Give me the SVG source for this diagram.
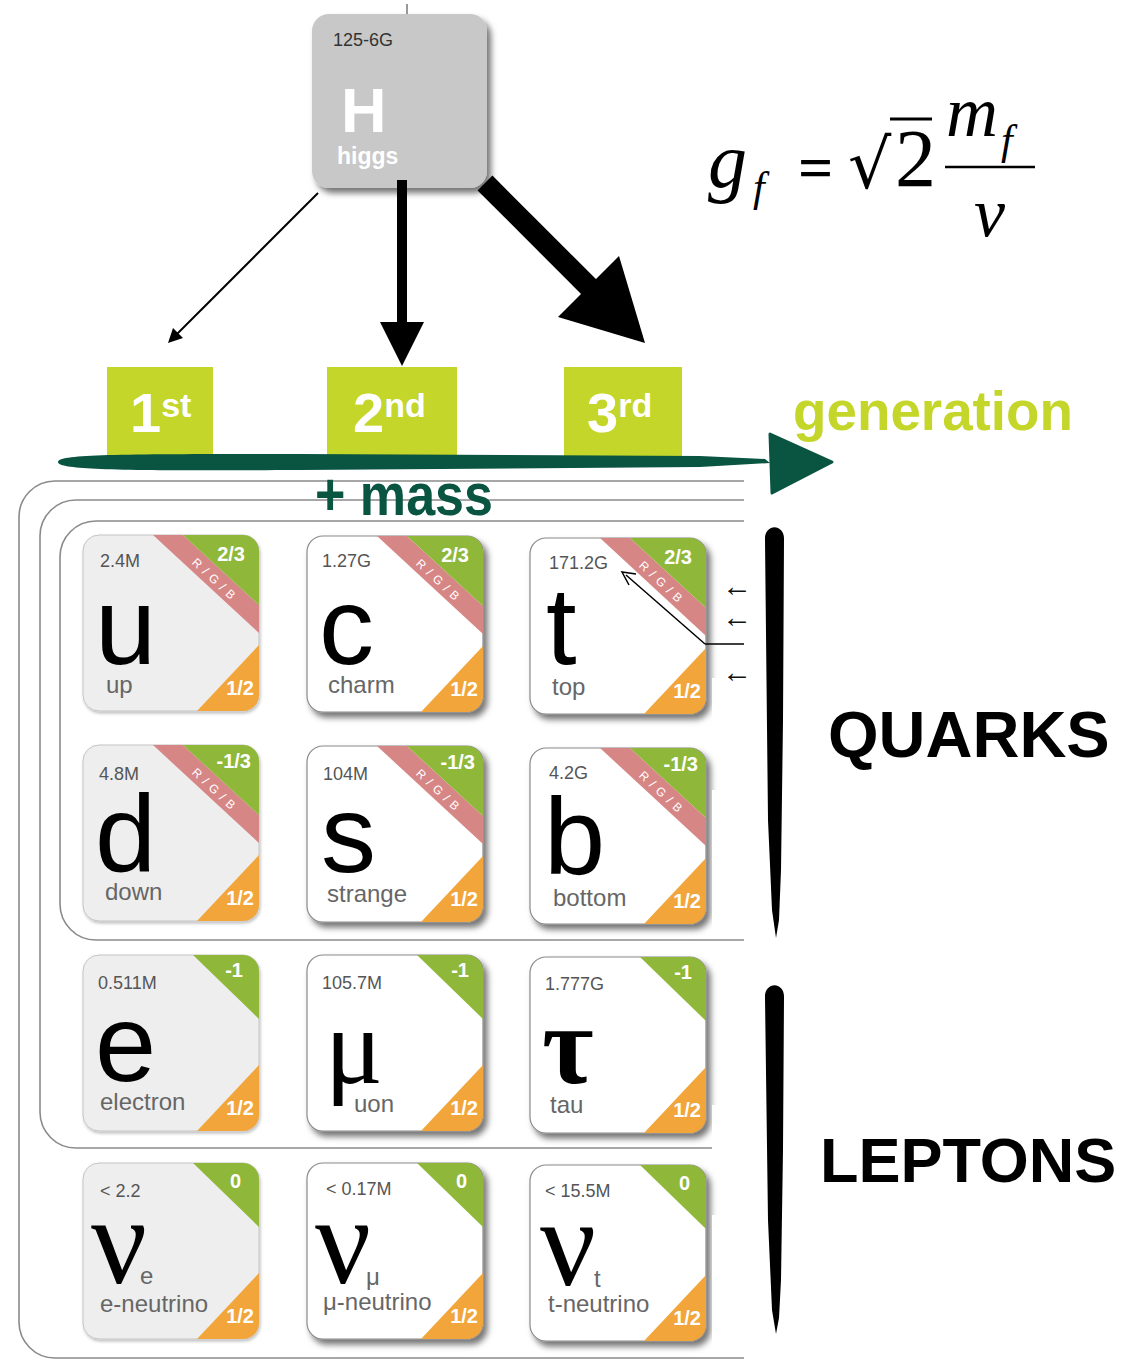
<svg xmlns="http://www.w3.org/2000/svg" width="1124" height="1361" viewBox="0 0 1124 1361">
<style>
.t1{fill:#eeeeee;stroke:#c4c4c4;stroke-width:1;filter:url(#sh1)}
.t2{fill:#ffffff;stroke:#8a8a8a;stroke-width:1.2;filter:url(#sh2)}
.gr{fill:#8fb83a}.pk{fill:#d78686}.or{fill:#f2a53a}
.ms{font-family:"Liberation Sans",Arial,sans-serif;font-size:18px;fill:#555}
.big{font-family:"Liberation Sans",Arial,sans-serif;font-size:110px;fill:#000}
.gk{font-family:"Liberation Serif","Times New Roman",serif;fill:#000}
.lb{font-family:"Liberation Sans",Arial,sans-serif;font-size:24px;fill:#666}
.ch{font-family:"Liberation Sans",Arial,sans-serif;font-weight:bold;font-size:20px;fill:#fff;text-anchor:end}
.rgb{font-family:"Liberation Sans",Arial,sans-serif;font-size:12px;fill:#fff;text-anchor:middle;letter-spacing:1px}
.fr{fill:none;stroke:#8a8a8a;stroke-width:1.6}
.gen{fill:#c5d62a}
.gt{font-family:"Liberation Sans",Arial,sans-serif;font-weight:bold;fill:#fff}
.fm{font-family:"Liberation Serif","Times New Roman",serif;fill:#000}
.sa{font-family:"Liberation Sans",Arial,sans-serif;font-weight:bold;fill:#000}
.la{font-family:"Liberation Sans",Arial,sans-serif;font-size:30px;fill:#111}
</style>
<defs>
<filter id="sh1" x="-10%" y="-10%" width="130%" height="130%"><feDropShadow dx="1" dy="2" stdDeviation="1.5" flood-color="#000" flood-opacity="0.25"/></filter>
<filter id="sh2" x="-10%" y="-10%" width="130%" height="130%"><feDropShadow dx="4" dy="5" stdDeviation="3" flood-color="#000" flood-opacity="0.55"/></filter>
<clipPath id="tc"><rect width="176" height="176" rx="16"/></clipPath>
</defs>
<rect width="1124" height="1361" fill="#fff"/>

<!-- frames -->
<g id="frames">
<path class="fr" d="M744 481 H55 A36 36 0 0 0 19 517 V1322 A36 36 0 0 0 55 1358 H744"/>
<path class="fr" d="M744 500 H76 A36 36 0 0 0 40 536 V1112 A36 36 0 0 0 76 1148 H712"/>
<path class="fr" d="M744 521 H96 A36 36 0 0 0 60 557 V904 A36 36 0 0 0 96 940 H744"/>
</g>

<!-- Higgs -->
<g id="higgs">
<line x1="407" y1="4" x2="407" y2="16" stroke="#999" stroke-width="2"/>
<rect x="312" y="14" width="175" height="174" rx="17" fill="#c8c8c8" filter="url(#sh2)"/>
<text x="333" y="46" style="font-family:'Liberation Sans',Arial,sans-serif;font-size:18px;fill:#333">125-6G</text>
<text x="341" y="132" style="font-family:'Liberation Sans',Arial,sans-serif;font-weight:bold;font-size:63px;fill:#fff">H</text>
<text x="337" y="164" style="font-family:'Liberation Sans',Arial,sans-serif;font-weight:bold;font-size:23px;fill:#fff">higgs</text>
</g>

<!-- connectors -->
<g id="connectors">
<line x1="318" y1="193" x2="176" y2="335" stroke="#000" stroke-width="2"/>
<polygon points="168,343 173,328 183,338" fill="#000"/>
<line x1="402" y1="180" x2="402" y2="326" stroke="#000" stroke-width="10"/>
<polygon points="380,322 424,322 402,366" fill="#000"/>
<line x1="485" y1="183" x2="592" y2="290" stroke="#000" stroke-width="21"/>
<polygon points="645,343 619,256 558,317" fill="#000"/>
</g>

<!-- formula -->
<g id="formula">
<text class="fm" x="708" y="187" font-size="78" font-style="italic">g</text>
<text class="fm" x="753" y="201" font-size="42" font-style="italic">f</text>
<text class="fm" x="798" y="188" font-size="62" font-weight="bold">=</text>
<text x="848" y="188" style="font-family:'DejaVu Serif','Liberation Serif',serif;font-size:68px">√</text>
<line x1="890" y1="119" x2="932" y2="119" stroke="#000" stroke-width="3"/>
<text class="fm" x="895" y="186" font-size="82">2</text>
<text class="fm" x="946" y="136" font-size="72" font-style="italic">m</text>
<text class="fm" x="1001" y="154" font-size="42" font-style="italic">f</text>
<line x1="945" y1="167" x2="1035" y2="167" stroke="#000" stroke-width="2.5"/>
<text class="fm" x="974" y="236" font-size="70" font-style="italic">v</text>
</g>

<!-- generations -->
<g id="gen1">
<rect class="gen" x="107" y="367" width="106" height="89"/>
<text class="gt" x="130" y="432" font-size="56">1<tspan font-size="34" dy="-15">st</tspan></text>
</g>
<g id="gen2">
<rect class="gen" x="327" y="367" width="130" height="89"/>
<text class="gt" x="353" y="432" font-size="56">2<tspan font-size="34" dy="-15">nd</tspan></text>
</g>
<g id="gen3">
<rect class="gen" x="564" y="367" width="118" height="89"/>
<text class="gt" x="587" y="432" font-size="56">3<tspan font-size="34" dy="-15">rd</tspan></text>
</g>
<g id="generation-label">
<text x="793" y="430" textLength="280" lengthAdjust="spacingAndGlyphs" style="font-family:'Liberation Sans',Arial,sans-serif;font-weight:bold;font-size:56px;fill:#c5d62a">generation</text>
</g>
<g id="mass-axis">
<path d="M58 462 C58 454 120 454 300 454 L700 456 L765 459 L770 463 L700 467 L300 470 C120 471 58 470 58 462 Z" fill="#0a5442"/>
<polygon points="770,434 832,462 772,493" fill="#0a5442" stroke="#0a5442" stroke-width="3" stroke-linejoin="round"/>
<text x="315" y="515" textLength="178" lengthAdjust="spacingAndGlyphs" style="font-family:'Liberation Sans',Arial,sans-serif;font-weight:bold;font-size:60px;fill:#0a5442">+ mass</text>
</g>

<!-- row 1 -->
<g id="tile-up" transform="translate(83,535)">
<rect class="t1" width="176" height="176" rx="16"/>
<g clip-path="url(#tc)"><polygon class="pk" points="70,0 100,0 176,70 176,98"/><polygon class="gr" points="100,0 176,0 176,70"/><polygon class="or" points="176,110 176,176 114,176"/></g>
<text class="rgb" transform="translate(131,44) rotate(43)" y="4">R / G / B</text>
<text class="ch" x="162" y="26">2/3</text><text class="ch" x="171" y="160">1/2</text>
<text class="ms" x="17" y="32">2.4M</text>
<text class="big" x="12" y="129">u</text>
<text class="lb" x="23" y="158">up</text>
</g>
<g id="tile-charm" transform="translate(307,536)">
<rect class="t2" width="176" height="176" rx="16"/>
<g clip-path="url(#tc)"><polygon class="pk" points="70,0 100,0 176,70 176,98"/><polygon class="gr" points="100,0 176,0 176,70"/><polygon class="or" points="176,110 176,176 114,176"/></g>
<text class="rgb" transform="translate(131,44) rotate(43)" y="4">R / G / B</text>
<text class="ch" x="162" y="26">2/3</text><text class="ch" x="171" y="160">1/2</text>
<text class="ms" x="15" y="31">1.27G</text>
<text class="big" x="12" y="128">c</text>
<text class="lb" x="21" y="157">charm</text>
</g>
<g id="tile-top" transform="translate(530,538)">
<rect class="t2" width="176" height="176" rx="16"/>
<g clip-path="url(#tc)"><polygon class="pk" points="70,0 100,0 176,70 176,98"/><polygon class="gr" points="100,0 176,0 176,70"/><polygon class="or" points="176,110 176,176 114,176"/></g>
<text class="rgb" transform="translate(131,44) rotate(43)" y="4">R / G / B</text>
<text class="ch" x="162" y="26">2/3</text><text class="ch" x="171" y="160">1/2</text>
<text class="ms" x="19" y="31">171.2G</text>
<text class="big" x="16" y="126">t</text>
<text class="lb" x="22" y="157">top</text>
</g>

<!-- row 2 -->
<g id="tile-down" transform="translate(83,745)">
<rect class="t1" width="176" height="176" rx="16"/>
<g clip-path="url(#tc)"><polygon class="pk" points="70,0 100,0 176,70 176,98"/><polygon class="gr" points="100,0 176,0 176,70"/><polygon class="or" points="176,110 176,176 114,176"/></g>
<text class="rgb" transform="translate(131,44) rotate(43)" y="4">R / G / B</text>
<text class="ch" x="168" y="23">-1/3</text><text class="ch" x="171" y="160">1/2</text>
<text class="ms" x="16" y="35">4.8M</text>
<text class="big" x="12" y="126">d</text>
<text class="lb" x="22" y="155">down</text>
</g>
<g id="tile-strange" transform="translate(307,746)">
<rect class="t2" width="176" height="176" rx="16"/>
<g clip-path="url(#tc)"><polygon class="pk" points="70,0 100,0 176,70 176,98"/><polygon class="gr" points="100,0 176,0 176,70"/><polygon class="or" points="176,110 176,176 114,176"/></g>
<text class="rgb" transform="translate(131,44) rotate(43)" y="4">R / G / B</text>
<text class="ch" x="168" y="23">-1/3</text><text class="ch" x="171" y="160">1/2</text>
<text class="ms" x="16" y="34">104M</text>
<text class="big" x="14" y="126">s</text>
<text class="lb" x="20" y="156">strange</text>
</g>
<g id="tile-bottom" transform="translate(530,748)">
<rect class="t2" width="176" height="176" rx="16"/>
<g clip-path="url(#tc)"><polygon class="pk" points="70,0 100,0 176,70 176,98"/><polygon class="gr" points="100,0 176,0 176,70"/><polygon class="or" points="176,110 176,176 114,176"/></g>
<text class="rgb" transform="translate(131,44) rotate(43)" y="4">R / G / B</text>
<text class="ch" x="168" y="23">-1/3</text><text class="ch" x="171" y="160">1/2</text>
<text class="ms" x="19" y="31">4.2G</text>
<text class="big" x="14" y="126">b</text>
<text class="lb" x="23" y="158">bottom</text>
</g>

<!-- row 3 -->
<g id="tile-electron" transform="translate(83,955)">
<rect class="t1" width="176" height="176" rx="16"/>
<g clip-path="url(#tc)"><polygon class="gr" points="110,0 176,0 176,64"/><polygon class="or" points="176,110 176,176 114,176"/></g>
<text class="ch" x="160" y="22">-1</text><text class="ch" x="171" y="160">1/2</text>
<text class="ms" x="15" y="34">0.511M</text>
<text class="big" x="12" y="126">e</text>
<text class="lb" x="17" y="155">electron</text>
</g>
<g id="tile-muon" transform="translate(307,955)">
<rect class="t2" width="176" height="176" rx="16"/>
<g clip-path="url(#tc)"><polygon class="gr" points="110,0 176,0 176,64"/><polygon class="or" points="176,110 176,176 114,176"/></g>
<text class="ch" x="162" y="22">-1</text><text class="ch" x="171" y="160">1/2</text>
<text class="ms" x="15" y="34">105.7M</text>
<text class="gk" x="18" y="128" font-size="108">μ</text>
<text class="lb" x="47" y="157">uon</text>
</g>
<g id="tile-tau" transform="translate(530,957)">
<rect class="t2" width="176" height="176" rx="16"/>
<g clip-path="url(#tc)"><polygon class="gr" points="110,0 176,0 176,64"/><polygon class="or" points="176,110 176,176 114,176"/></g>
<text class="ch" x="162" y="22">-1</text><text class="ch" x="171" y="160">1/2</text>
<text class="ms" x="15" y="33">1.777G</text>
<text class="gk" x="12" y="126" font-size="112" font-weight="bold">τ</text>
<text class="lb" x="20" y="156">tau</text>
</g>

<!-- row 4 -->
<g id="tile-e-neutrino" transform="translate(83,1163)">
<rect class="t1" width="176" height="176" rx="16"/>
<g clip-path="url(#tc)"><polygon class="gr" points="110,0 176,0 176,64"/><polygon class="or" points="176,110 176,176 114,176"/></g>
<text class="ch" x="158" y="25">0</text><text class="ch" x="171" y="160">1/2</text>
<text class="ms" x="17" y="34">&lt; 2.2</text>
<text class="gk" x="8" y="120" font-size="124">ν</text>
<text class="lb" x="57" y="121">e</text>
<text class="lb" x="17" y="149">e-neutrino</text>
</g>
<g id="tile-mu-neutrino" transform="translate(307,1163)">
<rect class="t2" width="176" height="176" rx="16"/>
<g clip-path="url(#tc)"><polygon class="gr" points="110,0 176,0 176,64"/><polygon class="or" points="176,110 176,176 114,176"/></g>
<text class="ch" x="160" y="25">0</text><text class="ch" x="171" y="160">1/2</text>
<text class="ms" x="19" y="32">&lt; 0.17M</text>
<text class="gk" x="8" y="120" font-size="124">ν</text>
<text class="lb" x="59" y="122">μ</text>
<text class="lb" x="16" y="147">μ-neutrino</text>
</g>
<g id="tile-tau-neutrino" transform="translate(530,1165)">
<rect class="t2" width="176" height="176" rx="16"/>
<g clip-path="url(#tc)"><polygon class="gr" points="110,0 176,0 176,64"/><polygon class="or" points="176,110 176,176 114,176"/></g>
<text class="ch" x="160" y="25">0</text><text class="ch" x="171" y="160">1/2</text>
<text class="ms" x="15" y="32">&lt; 15.5M</text>
<text class="gk" x="10" y="120" font-size="124">ν</text>
<text class="lb" x="64" y="122">t</text>
<text class="lb" x="18" y="147">t-neutrino</text>
</g>

<!-- masks at right edge -->
<g id="masks" fill="#fff">
<rect x="712" y="678" width="34" height="46"/>
<rect x="712" y="790" width="34" height="142"/>
<rect x="712" y="1105" width="34" height="38"/>
<rect x="712" y="1215" width="34" height="140"/>
</g>

<!-- top-tile annotations -->
<g id="annotations">
<line x1="744" y1="644" x2="705" y2="644" stroke="#000" stroke-width="1.5"/>
<line x1="705" y1="644" x2="626" y2="575" stroke="#000" stroke-width="1.5"/>
<polyline points="629,585 622,572 636,574" fill="none" stroke="#000" stroke-width="1.5"/>
<text class="la" x="722" y="596">←</text>
<text class="la" x="722" y="627">←</text>
<text class="la" x="722" y="682">←</text>
</g>

<!-- brackets -->
<g id="quarks">
<path d="M765 540 C764 523 785 523 784 540 L783 720 L781 870 L779 920 L776 938 L772 910 L768 820 Z" fill="#000"/>
<text class="sa" x="828" y="757" font-size="65">QUARKS</text>
</g>
<g id="leptons">
<path d="M765 998 C764 981 785 981 784 998 L783 1150 L781 1280 L779 1318 L776 1334 L772 1310 L768 1220 Z" fill="#000"/>
<text class="sa" x="820" y="1182" font-size="63">LEPTONS</text>
</g>
</svg>
